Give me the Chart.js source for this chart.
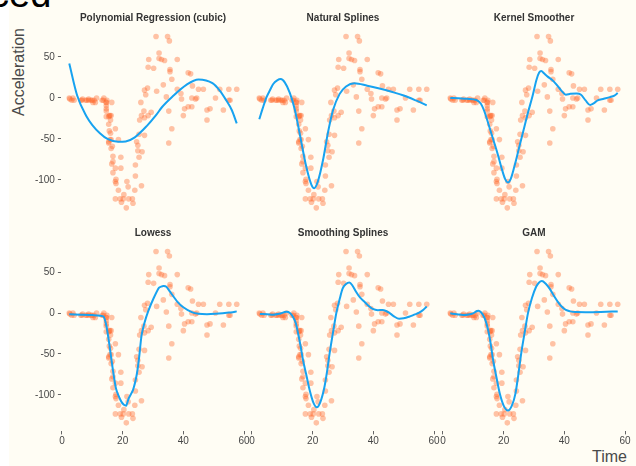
<!DOCTYPE html>
<html>
<head>
<meta charset="utf-8">
<script src="https://cdn.jsdelivr.net/npm/chart.js@4.4.1/dist/chart.umd.min.js"></script>
<style>
  html, body { margin: 0; padding: 0; }
  body {
    width: 636px; height: 466px; position: relative; overflow: hidden;
    background: #fffdf4; font-family: "Liberation Sans", Arial, sans-serif;
  }
  #edge { position: absolute; left: 0; top: 0; width: 9px; height: 466px; background: #ffffff; }
  canvas { position: absolute; left: 0; top: 0; }
  #head { position: absolute; left: -10px; top: -25px; font-size: 38px; line-height: 38px; color: #000; white-space: nowrap; }
  #ylab {
    position: absolute; left: -41px; top: 62px; width: 120px; height: 20px;
    line-height: 20px; text-align: center; font-size: 16px; color: #4a4a4a;
    transform: rotate(-90deg);
  }
  #xlab {
    position: absolute; left: 540px; top: 447px; width: 87px; height: 20px;
    line-height: 20px; text-align: right; font-size: 16px; color: #4a4a4a;
  }
</style>
</head>
<body>
<div id="edge"></div>
<div id="head">ced</div>
<div id="ylab">Acceleration</div>
<div id="xlab">Time</div>
<script>
// Motorcycle crash-test data: time after impact (ms) and head acceleration (g)
const times = [2.4,2.6,3.2,3.6,4.0,6.2,6.6,6.8,7.8,8.2,8.8,8.8,9.6,10.0,10.2,10.6,11.0,11.4,13.2,13.6,
  13.8,14.6,14.6,14.6,14.6,14.6,14.6,14.8,15.4,15.4,15.4,15.4,15.6,15.6,15.8,15.8,16.0,16.0,16.2,16.2,
  16.2,16.4,16.4,16.6,16.8,16.8,16.8,17.6,17.6,17.6,17.6,17.8,17.8,18.6,18.6,19.2,19.4,19.4,19.6,20.2,
  20.4,21.2,21.4,21.8,22.0,23.2,23.4,24.0,24.2,24.2,24.6,25.0,25.0,25.4,25.4,25.6,26.0,26.2,26.2,26.4,
  27.0,27.2,27.2,27.2,27.6,28.2,28.4,28.4,28.6,29.4,30.2,31.0,31.2,32.0,32.0,32.8,33.4,33.8,34.4,34.8,
  35.2,35.2,35.4,35.6,35.6,36.2,36.2,38.0,38.0,39.2,39.4,40.0,40.4,41.6,41.6,42.4,42.8,42.8,43.0,44.0,
  44.4,45.0,46.6,47.8,47.8,48.8,50.6,52.0,53.2,55.0,55.0,55.4,57.6];
const accel = [0.0,-1.3,-2.7,0.0,-2.7,-2.7,-2.7,-1.3,-2.7,-2.7,-1.3,-2.7,-2.7,-2.7,-5.4,-2.7,-5.4,0.0,-2.7,-2.7,
  0.0,-13.3,-5.4,-5.4,-9.3,-16.0,-22.8,-2.7,-22.8,-32.1,-53.5,-54.9,-40.2,-21.5,-21.5,-50.8,-42.9,-26.8,-21.5,-50.8,
  -61.7,-5.4,-80.4,-59.0,-71.0,-91.1,-77.7,-37.5,-85.6,-123.1,-101.9,-99.1,-104.4,-112.5,-50.8,-123.1,-85.6,-72.3,-127.2,-123.1,
  -117.9,-134.0,-101.9,-108.4,-123.1,-123.1,-128.5,-112.5,-95.1,-81.8,-53.5,-64.4,-57.6,-72.3,-44.3,-26.8,-5.4,-107.1,-21.5,-65.6,
  -16.0,-45.6,-24.2,9.5,4.0,12.0,-21.5,37.5,46.9,-17.4,36.2,75.0,8.1,54.9,48.2,46.9,16.0,45.6,1.3,75.0,
  -16.0,-54.9,69.6,34.8,32.1,-37.5,22.8,46.9,10.7,5.4,-1.3,-21.5,-13.3,30.8,-10.7,29.4,0.0,-10.7,14.7,-1.3,
  0.0,10.7,10.7,-26.8,-14.7,-13.3,0.0,10.7,-14.7,-2.7,10.7,-2.7,10.7];

// Fitted curves, one pair of arrays per smoothing method
const cubicT   = [2.4, 5, 8, 10, 12.5, 15, 18.5, 21, 24, 28, 31, 33, 36.5, 41, 45, 49.6, 52, 54, 56, 57.6];
const cubicFit = [42, 3, -22, -33, -43, -50, -53.5, -53, -48, -34, -21, -11, 2, 16, 22.5, 18, 9, -2, -15, -31];

const nsT   = [2.4, 3.5, 4.8, 6, 7, 8.3, 9.5, 10.8, 12.5, 14.1, 15.7, 17.9, 19.6, 20.5, 21.7, 23.4, 25, 26.7, 28.9, 31, 33.8, 38, 42, 46, 50, 54, 57.6];
const nsFit = [-26, -13, 1, 10, 17, 21.5, 23, 19, 6, -14, -43, -84, -106, -110, -102, -76, -43, -15, 5, 14, 18, 15, 11.5, 7.5, 3, -3, -9];

const kernT   = [2.4, 5, 8, 11, 12.5, 13.5, 15, 16.5, 18, 19.5, 20.5, 21.4, 22.3, 23.5, 25, 26.5, 28, 29.5, 30.8, 31.7, 32.4, 33.3, 34.5, 36, 37.5, 39, 40.5, 42, 44, 45.5, 47, 48.5, 49.5, 51, 53, 55, 56.5, 57.6];
const kernFit = [0, -0.5, -1, -2.5, -7, -15, -32, -50, -68, -88, -99, -103, -99, -84, -62, -40, -18, 2, 22, 31, 33, 30, 26, 22, 16, 9, 4, 5, 5.5, 4, -3, -8.5, -7, -3, -1, 1, 3, 6];

const lowT   = [2.4, 6.2, 10, 13.6, 14.6, 15.6, 16.8, 17.8, 19.4, 20.4, 21.2, 22, 23.4, 24.6, 25.4, 26.2, 27.2, 28.4, 30.2, 32, 33.4, 34.4, 35.6, 38, 40, 42.8, 45, 47.8, 50.6, 55, 57.6];
const lowFit = [-1.5, -2, -2.5, -4, -15, -38, -70, -92, -107, -112, -113, -104, -94, -76, -55, -28, -12, 2, 18, 31, 33, 32, 26, 14, 7, 1, -1, -1.5, -1, 0.5, 2];

const ssT   = [2.6, 5, 7, 9, 11.4, 12.5, 13.5, 14.5, 15.2, 16, 16.8, 18, 19, 20.2, 21.4, 22.5, 23.9, 24.8, 25.6, 26.7, 27.8, 28.9, 29.9, 31, 32.1, 33.2, 34.3, 35.6, 37, 38.5, 39.8, 41.5, 43, 44.2, 45.2, 46.8, 48.5, 50, 51.8, 53.5, 55.1, 56.5, 57.6];
const ssFit = [-1.2, -1.5, -2, -1, 1.5, 0, -4.5, -13, -25, -40, -57, -77, -94, -109, -115, -109, -90, -70, -49, -24, 0, 17, 30, 35.5, 37.4, 33, 26, 19, 14, 8.5, 5, 3.5, 3.7, 2.5, 0.4, -4, -7, -6.5, -4.5, -2, 0.4, 4, 8];

const gamT   = [2.4, 4.5, 6.7, 8.5, 9.9, 11.2, 11.8, 12.5, 13.2, 14, 14.9, 15.7, 16.5, 17.6, 18.7, 20, 21.4, 22.7, 23.9, 24.8, 25.8, 27, 28, 29.3, 30.7, 31.6, 32.6, 33.8, 35.1, 36.4, 37.8, 39.1, 40.5, 42, 43.8, 47, 52, 57.6];
const gamFit = [-0.4, -1.5, -2.4, -1.8, -0.4, 2.5, 2.8, 1, -2.4, -9, -21, -37, -57, -78, -98, -113, -119, -113, -98, -76, -49, -22, -0.4, 18, 32, 37, 39, 36, 30, 22, 14, 8, 3.7, 2, 1.2, 1, 1.3, 2];

const panelTitles = ['Polynomial Regression (cubic)', 'Natural Splines', 'Kernel Smoother',
                     'Lowess', 'Smoothing Splines', 'GAM'];
const xTicks = [0, 20, 40, 60];
const xTickLabels = ['0', '20', '40', '60'];
const yTicks = [-100, -50, 0, 50];
const yTickLabels = ['-100', '-50', '0', '50'];

const curves = [
  [cubicT, cubicFit], [nsT, nsFit], [kernT, kernFit],
  [lowT, lowFit], [ssT, ssFit], [gamT, gamFit]
];

// Panel geometry (plot areas in page pixels)
const colLeft = [60.9, 250.9, 441.9];
const colRight = [245.1, 435.1, 626.1];
const rowTop = [27.9, 243.0];
const rowBottom = [216.4, 431.4];
const Y_AXIS_W = 50, X_AXIS_H = 20, TITLE_H = 16;

const W = 636, H = 466;
const tickFont = { family: '"Liberation Sans", Arial, sans-serif', size: 10 };
const tickColor = '#474747';
const points = times.map((t, i) => ({ x: t, y: accel[i] }));

panelTitles.forEach((title, k) => {
  const row = Math.floor(k / 3), col = k % 3;
  const isLeft = col === 0, isBottom = row === 1;
  const cv = document.createElement('canvas');
  cv.width = W; cv.height = H;
  document.body.appendChild(cv);
  const [ct, cf] = curves[k];
  const curve = ct.map((t, i) => ({ x: t, y: cf[i] }));

  new Chart(cv, {
    type: 'scatter',
    data: {
      datasets: [
        {
          type: 'line', data: curve, order: 0,
          borderColor: '#17a2f0', borderWidth: 2,
          pointRadius: 0, fill: false,
          cubicInterpolationMode: k === 3 ? 'default' : 'monotone',
          tension: k === 3 ? 0.15 : 0
        },
        {
          data: points, order: 1,
          pointRadius: 2.8, pointBorderWidth: 0,
          backgroundColor: 'rgba(255,105,45,0.4)'
        }
      ]
    },
    options: {
      responsive: false, animation: false, events: [],
      devicePixelRatio: 1,
      layout: {
        padding: {
          left: isLeft ? colLeft[col] - Y_AXIS_W : colLeft[col],
          right: W - colRight[col],
          top: rowTop[row] - TITLE_H,
          bottom: H - rowBottom[row] - (isBottom ? X_AXIS_H : 0)
        }
      },
      plugins: {
        legend: { display: false },
        tooltip: { enabled: false },
        title: {
          display: true, text: title, fullSize: false,
          color: '#333333',
          font: { family: '"Liberation Sans", Arial, sans-serif', size: 10, weight: 'bold', lineHeight: 1.2 },
          padding: { top: 0, bottom: 4 }
        }
      },
      scales: {
        x: {
          type: 'linear', min: -0.36, max: 60.36,
          display: isBottom,
          afterBuildTicks: s => { s.ticks = xTicks.map(v => ({ value: v })); },
          afterFit: s => { if (isBottom) s.height = X_AXIS_H; },
          ticks: {
            font: tickFont, color: tickColor, padding: 1, maxRotation: 0, autoSkip: false,
            callback: v => xTickLabels[xTicks.indexOf(v)]
          },
          grid: { drawOnChartArea: false, drawTicks: true, tickLength: 3, color: '#666666', lineWidth: 1 },
          border: { display: false }
        },
        y: {
          type: 'linear', min: -144.45, max: 85.45,
          display: isLeft,
          afterBuildTicks: s => { s.ticks = yTicks.map(v => ({ value: v })); },
          afterFit: s => { if (isLeft) s.width = Y_AXIS_W; },
          ticks: {
            font: tickFont, color: tickColor, padding: 3, autoSkip: false,
            callback: v => yTickLabels[yTicks.indexOf(v)]
          },
          grid: { drawOnChartArea: false, drawTicks: true, tickLength: 3, color: '#666666', lineWidth: 1 },
          border: { display: false }
        }
      }
    }
  });
});
</script>
</body>
</html>
